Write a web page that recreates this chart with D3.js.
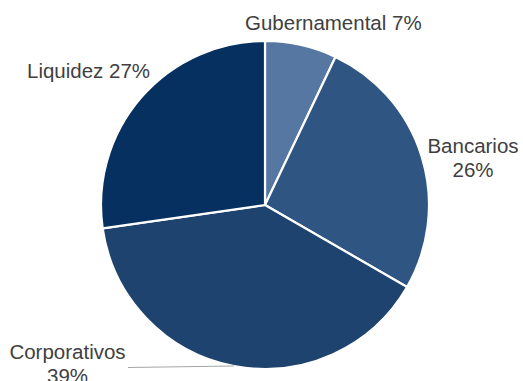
<!DOCTYPE html>
<html>
<head>
<meta charset="utf-8">
<script src="https://cdn.jsdelivr.net/npm/d3@7"></script>
<style>
  html, body { margin: 0; padding: 0; background: #fff; }
  svg { display: block; }
</style>
</head>
<body>
<svg id="chart" width="523" height="381"></svg>
<script>
// Portfolio composition by type of instrument
const categories = ["Gubernamental", "Bancarios", "Corporativos", "Liquidez"];
const values = [7, 26, 39, 27];
const colors = ["#5577a1", "#2f5583", "#1d436e", "#06305f"];

const width = 523, height = 381;
const cx = 265, cy = 205, radius = 164;

const svg = d3.select("#chart");
const g = svg.append("g").attr("transform", `translate(${cx},${cy})`);

const pie = d3.pie().sort(null).value(d => d.value);
const arc = d3.arc().innerRadius(0).outerRadius(radius);

const data = categories.map((c, i) => ({ name: c, value: values[i], color: colors[i] }));
const arcs = pie(data);

g.selectAll("path.slice")
  .data(arcs)
  .join("path")
  .attr("class", "slice")
  .attr("d", arc)
  .attr("fill", d => d.data.color)
  .attr("stroke", "#fff")
  .attr("stroke-width", 2.2)
  .attr("stroke-linejoin", "round");

// Labels, placed outside the pie
const labelFont = "'Liberation Sans', Arial, sans-serif";
const labelSize = 20.5;
const labelColor = "#404040";

const labels = [
  { i: 0, lines: [`${categories[0]} ${values[0]}%`], x: 245, y: 30, anchor: "start" },
  { i: 1, lines: [categories[1], `${values[1]}%`], x: 473, y: 153, anchor: "middle" },
  { i: 2, lines: [categories[2], `${values[2]}%`], x: 67.5, y: 359, anchor: "middle" },
  { i: 3, lines: [`${categories[3]} ${values[3]}%`], x: 27, y: 78, anchor: "start" }
];

const lab = svg.append("g")
  .attr("font-family", labelFont)
  .attr("font-size", labelSize)
  .attr("fill", labelColor);

labels.forEach(l => {
  const t = lab.append("text")
    .attr("x", l.x)
    .attr("y", l.y)
    .attr("text-anchor", l.anchor);
  l.lines.forEach((s, k) => {
    t.append("tspan")
      .attr("x", l.x)
      .attr("dy", k === 0 ? 0 : 24)
      .text(s);
  });
});

// Leader line for the Corporativos label
svg.append("line")
  .attr("x1", 128).attr("y1", 367.5)
  .attr("x2", 234).attr("y2", 366)
  .attr("stroke", "#a6a6a6")
  .attr("stroke-width", 1.2);
</script>
</body>
</html>
